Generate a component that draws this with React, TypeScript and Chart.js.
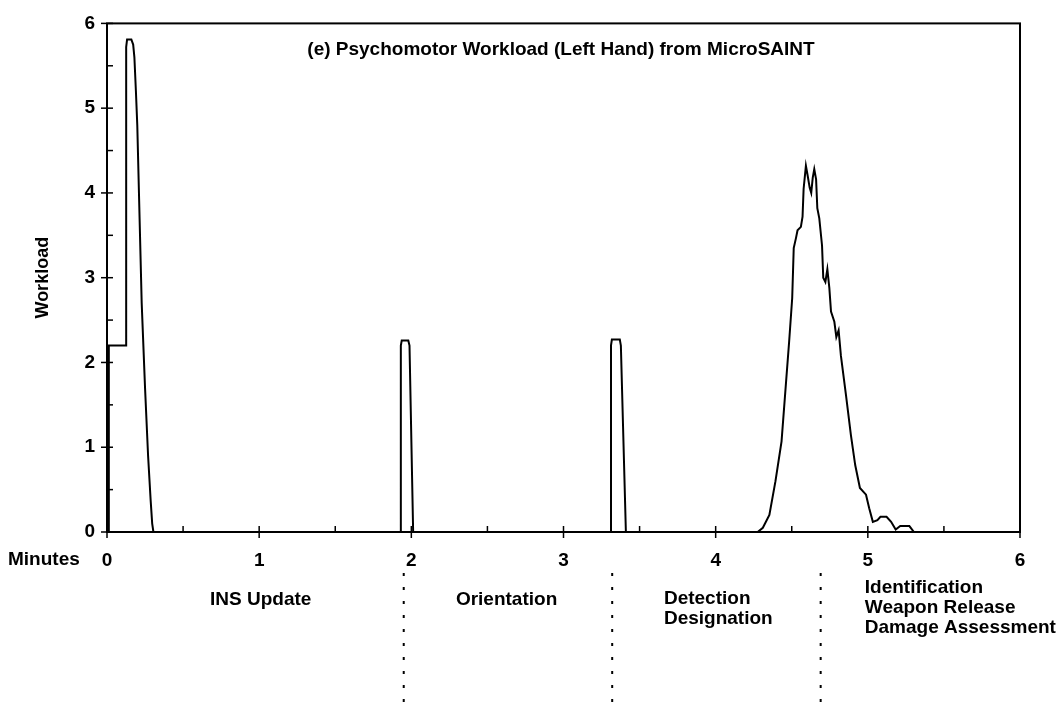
import React, { useEffect, useRef } from "react";
import { Chart, registerables } from "chart.js";

Chart.register(...registerables);

const FONT = "'Liberation Sans', Arial, sans-serif";

const titleText = "(e) Psychomotor Workload (Left Hand) from MicroSAINT";
const xAxisLabel = "Minutes";
const yAxisLabel = "Workload";

const xTickValues = [0, 1, 2, 3, 4, 5, 6];
const yTickValues = [0, 1, 2, 3, 4, 5, 6];

// Simulated time (minutes)
const minutes = [
  0, 0.01, 0.012, 0.125, 0.126, 0.132, 0.16, 0.172, 0.18, 0.19, 0.199, 0.21, 0.228, 0.25, 0.27, 0.287, 0.297, 0.305,
  1.93, 1.931, 1.937, 1.98, 1.988, 2.012,
  3.311, 3.312, 3.318, 3.37, 3.377, 3.41,
  4.276, 4.31, 4.353, 4.393, 4.433, 4.463, 4.483, 4.503, 4.513, 4.528, 4.538, 4.56, 4.571, 4.578, 4.593, 4.603,
  4.618, 4.628, 4.638, 4.648, 4.66, 4.668, 4.681, 4.699, 4.707, 4.721, 4.734, 4.747, 4.758, 4.78, 4.793, 4.808,
  4.823, 4.856, 4.889, 4.917, 4.948, 4.988, 5.009, 5.033, 5.063, 5.083, 5.123, 5.153, 5.183, 5.213, 5.273, 5.303,
  6,
];

// Workload (left hand)
const workload = [
  0, 0, 2.2, 2.2, 5.72, 5.81, 5.81, 5.75, 5.6, 5.2, 4.8, 4.0, 2.7, 1.7, 0.9, 0.37, 0.1, 0,
  0, 2.2, 2.26, 2.26, 2.2, 0,
  0, 2.2, 2.27, 2.27, 2.2, 0,
  0, 0.05, 0.2, 0.6, 1.07, 1.78, 2.25, 2.76, 3.35, 3.47, 3.56, 3.6, 3.72, 4.05, 4.32, 4.22,
  4.06, 4.0, 4.18, 4.28, 4.16, 3.82, 3.7, 3.38, 3.0, 2.95, 3.1, 2.88, 2.6, 2.48, 2.3, 2.38,
  2.08, 1.62, 1.14, 0.79, 0.52, 0.44, 0.28, 0.12, 0.14, 0.18, 0.18, 0.12, 0.03, 0.07, 0.07, 0,
  0,
];

// Mission phase boundaries (minutes) and phase names
const phaseBoundaries = [1.95, 3.32, 4.69];
const phaseNames = [
  ["INS Update"],
  ["Orientation"],
  ["Detection", "Designation"],
  ["Identification", "Weapon Release", "Damage Assessment"],
];

const decorPlugin = {
  id: "decor",
  afterDraw(chart: any) {
    const { ctx, chartArea, scales } = chart;
    const xs = scales.x;
    const ys = scales.y;
    const x0 = chartArea.left;
    const y0 = chartArea.bottom;
    ctx.save();
    ctx.strokeStyle = "#000";
    ctx.fillStyle = "#000";
    ctx.lineWidth = 2;
    // frame
    ctx.strokeRect(chartArea.left, chartArea.top, chartArea.right - chartArea.left, chartArea.bottom - chartArea.top);
    // y ticks
    ctx.lineWidth = 1.5;
    for (let v = 0; v <= 6.001; v += 0.5) {
      const py = ys.getPixelForValue(v);
      const major = Math.abs(v - Math.round(v)) < 1e-6;
      ctx.beginPath();
      ctx.moveTo(major ? x0 - 6 : x0, py);
      ctx.lineTo(x0 + 6, py);
      ctx.stroke();
    }
    // x ticks
    for (let v = 0; v <= 6.001; v += 0.5) {
      const px = xs.getPixelForValue(v);
      const major = Math.abs(v - Math.round(v)) < 1e-6;
      ctx.beginPath();
      ctx.moveTo(px, y0 - 6);
      ctx.lineTo(px, major ? y0 + 6 : y0);
      ctx.stroke();
    }
    // title
    ctx.font = `bold 19px ${FONT}`;
    ctx.textAlign = "center";
    ctx.textBaseline = "middle";
    ctx.fillText(titleText, 561, 50);
    // x axis label
    ctx.textAlign = "left";
    ctx.fillText(xAxisLabel, 8, 560);
    // dotted phase boundaries
    ctx.lineWidth = 2;
    ctx.setLineDash([3, 11]);
    phaseBoundaries.forEach((b) => {
      const px = xs.getPixelForValue(b);
      ctx.beginPath();
      ctx.moveTo(px, 573);
      ctx.lineTo(px, 704);
      ctx.stroke();
    });
    ctx.setLineDash([]);
    // phase names
    const anchors = [
      { x: 0.677, y: 600 },
      { x: 2.293, y: 600 },
      { x: 3.66, y: 599 },
      { x: 4.98, y: 588 },
    ];
    ctx.textAlign = "left";
    phaseNames.forEach((lines, i) => {
      const px = xs.getPixelForValue(anchors[i].x);
      lines.forEach((t, j) => {
        ctx.fillText(t, px, anchors[i].y + j * 20);
      });
    });
    ctx.restore();
  },
};

export default function App() {
  const ref = useRef<HTMLCanvasElement | null>(null);
  useEffect(() => {
    if (!ref.current) return;
    const points = minutes.map((m, i) => ({ x: m, y: workload[i] }));
    const tickFont = { family: FONT, size: 19, weight: "bold" as const };
    const chart = new Chart(ref.current, {
      type: "line",
      data: {
        datasets: [
          {
            data: points,
            borderColor: "#000",
            borderWidth: 2,
            pointRadius: 0,
            tension: 0,
            fill: false,
          },
        ],
      },
      options: {
        animation: false,
        responsive: false,
        maintainAspectRatio: false,
        layout: { padding: { left: 0, right: 42, top: 16, bottom: 0 } },
        plugins: { legend: { display: false }, tooltip: { enabled: false }, title: { display: false } },
        scales: {
          x: {
            type: "linear",
            min: 0,
            max: 6,
            afterBuildTicks: (s: any) => {
              s.ticks = xTickValues.map((v) => ({ value: v }));
            },
            ticks: { color: "#000", font: tickFont, padding: 17, maxRotation: 0, autoSkip: false },
            grid: { display: false, drawTicks: false },
            border: { display: false },
            afterFit: (s: any) => {
              s.height = 172;
            },
          },
          y: {
            type: "linear",
            min: 0,
            max: 6,
            afterBuildTicks: (s: any) => {
              s.ticks = yTickValues.map((v) => ({ value: v }));
            },
            ticks: { color: "#000", font: tickFont, padding: 12 },
            grid: { display: false, drawTicks: false },
            border: { display: false },
            title: {
              display: true,
              text: yAxisLabel,
              color: "#000",
              font: { family: FONT, size: 18, weight: "bold" },
              padding: { top: 32, bottom: 0 },
            },
            afterFit: (s: any) => {
              s.width = 107;
            },
          },
        },
      },
      plugins: [decorPlugin],
    });
    return () => chart.destroy();
  }, []);
  return (
    <div style={{ position: "absolute", left: 0, top: 0, width: 1062, height: 704, background: "#fff" }}>
      <canvas ref={ref} width={1062} height={704} style={{ width: 1062, height: 704, display: "block" }} />
    </div>
  );
}
